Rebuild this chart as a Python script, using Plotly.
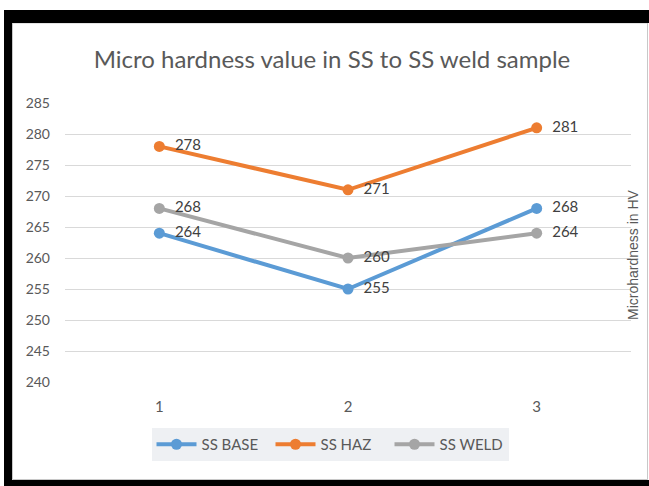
import plotly.graph_objects as go

# Sample positions and hardness readings (HV)
positions = ["1", "2", "3"]
ss_base = [264, 255, 268]
ss_haz = [278, 271, 281]
ss_weld = [268, 260, 264]

y_ticks = [240, 245, 250, 255, 260, 265, 270, 275, 280, 285]

W, H = 649, 486
ML, MR, MT, MB = 65, 18, 103, 104
PW, PH = W - ML - MR, H - MT - MB


def px_x(p):
    return (p - ML) / PW


def px_y(p):
    return (H - MB - p) / PH


NARROW = "Lato, Open Sans, sans-serif"
GREY_TXT = "#595959"

series = [
    ("SS BASE", ss_base, "#5B9BD5"),
    ("SS HAZ", ss_haz, "#ED7D31"),
    ("SS WELD", ss_weld, "#A5A5A5"),
]

fig = go.Figure()
for name, vals, col in series:
    fig.add_trace(go.Scatter(
        x=positions, y=vals, name=name,
        mode="lines+markers+text",
        line=dict(color=col, width=4),
        marker=dict(color=col, size=11),
        texttemplate="\u00a0\u00a0%{y}",
        textposition="middle right",
        textfont=dict(family=NARROW, size=15, color="#404040"),
        cliponaxis=False,
    ))

# Frame around the chart
shapes = [
    dict(type="rect", xref="paper", yref="paper",
         x0=px_x(12.5), x1=px_x(647.5), y0=px_y(23), y1=px_y(479.5),
         line=dict(color="#C8C8C8", width=1), fillcolor="rgba(0,0,0,0)", layer="below"),
    dict(type="rect", xref="paper", yref="paper",
         x0=px_x(4), x1=px_x(649), y0=px_y(10), y1=px_y(23),
         line=dict(width=0), fillcolor="black"),
    dict(type="rect", xref="paper", yref="paper",
         x0=px_x(4), x1=px_x(12), y0=px_y(10), y1=px_y(486),
         line=dict(width=0), fillcolor="black"),
    dict(type="rect", xref="paper", yref="paper",
         x0=px_x(4), x1=px_x(649), y0=px_y(480), y1=px_y(486),
         line=dict(width=0), fillcolor="black"),
]

fig.update_layout(
    width=W, height=H,
    margin=dict(l=ML, r=MR, t=MT, b=MB),
    paper_bgcolor="white", plot_bgcolor="white",
    title=dict(
        text="Micro hardness value in SS to SS weld sample",
        x=px_x(332), xref="paper", xanchor="center",
        y=1 - 60 / H, yanchor="middle",
        font=dict(family=NARROW, size=24, color=GREY_TXT),
    ),
    xaxis=dict(
        type="category", range=[-0.5, 2.5],
        showgrid=False, showline=False, zeroline=False, ticks="",
        ticklabelstandoff=14,
        tickfont=dict(family=NARROW, size=15, color=GREY_TXT),
    ),
    yaxis=dict(
        range=[240, 285], tickvals=y_ticks,
        showgrid=True, gridcolor="#D9D9D9", gridwidth=1,
        zeroline=False, showline=False, ticks="",
        ticklabelstandoff=14,
        tickfont=dict(family=NARROW, size=14, color=GREY_TXT),
    ),
    legend=dict(
        orientation="h", x=px_x(330), xanchor="center",
        y=px_y(428), yanchor="top",
        bgcolor="#EEF0F3", borderwidth=0,
        font=dict(family=NARROW, size=15, color=GREY_TXT),
        itemwidth=40, tracegroupgap=0,
        entrywidth=64, entrywidthmode="pixels",
    ),
    annotations=[dict(
        text="Microhardness in HV", xref="paper", yref="paper",
        x=px_x(633), y=px_y(255), textangle=-90, showarrow=False,
        xanchor="center", yanchor="middle",
        font=dict(family="Liberation Sans, Arial, sans-serif", size=14, color=GREY_TXT),
    )],
    shapes=shapes,
    showlegend=True,
)

fig.write_html("out.html")
